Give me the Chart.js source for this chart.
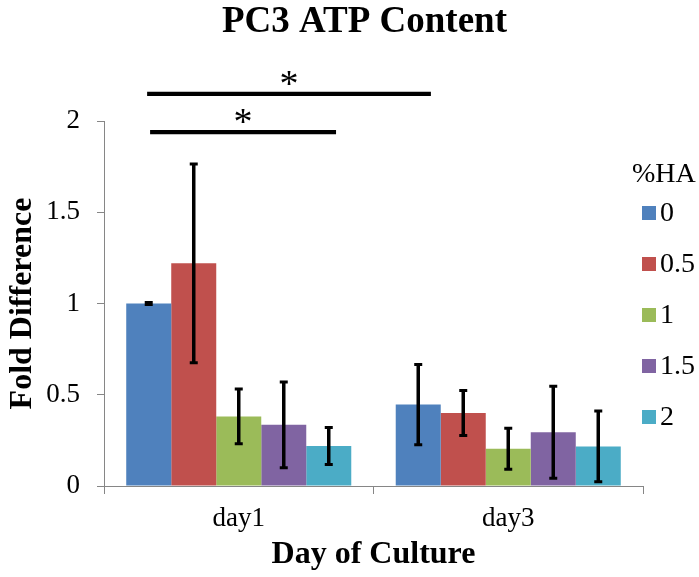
<!DOCTYPE html>
<html><head><meta charset="utf-8">
<script src="https://cdn.jsdelivr.net/npm/chart.js@4.4.0/dist/chart.umd.min.js"></script>
<style>html,body{margin:0;padding:0;background:#fff;}#wrap{width:699px;height:577px;}</style>
</head><body><div id="wrap"><canvas id="c" width="699" height="577"></canvas></div>
<script>
// ---- data ----
const categories = ['day1', 'day3'];
const seriesLabels = ['0', '0.5', '1', '1.5', '2'];
const values0 = [1.0, 0.446];
const values05 = [1.22, 0.40];
const values1 = [0.381, 0.204];
const values15 = [0.335, 0.295];
const values2 = [0.219, 0.217];
const errors0 = [0.005, 0.22];
const errors05 = [0.544, 0.123];
const errors1 = [0.15, 0.112];
const errors15 = [0.235, 0.252];
const errors2 = [0.101, 0.194];
const yTickValues = [0, 0.5, 1, 1.5, 2];
const yTickLabels = ['0', '0.5', '1', '1.5', '2'];
// significance brackets: start / end in category units, level in value units
const sigStart = [-0.34, -0.329];
const sigEnd = [0.713, 0.361];
const sigLevel = [2.149, 1.939];
const sigText = ['*', '*'];

const colors = ['#4F81BD', '#C0504D', '#9BBB59', '#8064A2', '#4BACC6'];
const seriesValues = [values0, values05, values1, values15, values2];
const seriesErrors = [errors0, errors05, errors1, errors15, errors2];
const FONT = "'Liberation Serif', 'Times New Roman', serif";
Chart.defaults.font.family = FONT;
Chart.defaults.color = '#000';

const datasets = seriesLabels.map((lab, i) => ({
  label: lab,
  data: seriesValues[i],
  errors: seriesErrors[i],
  backgroundColor: colors[i],
  borderWidth: 0,
  categoryPercentage: 0.835,
  barPercentage: 1.0
}));

const errorBars = {
  id: 'errorBars',
  afterDatasetsDraw(chart) {
    const ctx = chart.ctx;
    const ys = chart.scales.y;
    ctx.save();
    ctx.strokeStyle = '#000';
    chart.data.datasets.forEach((ds, i) => {
      const meta = chart.getDatasetMeta(i);
      meta.data.forEach((bar, j) => {
        const v = ds.data[j], e = ds.errors[j];
        const yt = ys.getPixelForValue(v + e);
        const yb = ys.getPixelForValue(v - e);
        ctx.lineWidth = 3.5;
        ctx.beginPath(); ctx.moveTo(bar.x, yt); ctx.lineTo(bar.x, yb); ctx.stroke();
        ctx.lineWidth = 3;
        ctx.beginPath();
        ctx.moveTo(bar.x - 4, yt); ctx.lineTo(bar.x + 4, yt);
        ctx.moveTo(bar.x - 4, yb); ctx.lineTo(bar.x + 4, yb);
        ctx.stroke();
      });
    });
    ctx.restore();
  }
};

const sigPlugin = {
  id: 'sig',
  afterDraw(chart) {
    const ctx = chart.ctx, xs = chart.scales.x, ys = chart.scales.y;
    ctx.save();
    ctx.strokeStyle = '#000'; ctx.fillStyle = '#000'; ctx.lineWidth = 4.3;
    sigStart.forEach((s, i) => {
      const x1 = xs.getPixelForValue(s), x2 = xs.getPixelForValue(sigEnd[i]);
      const y = ys.getPixelForValue(sigLevel[i]);
      ctx.beginPath(); ctx.moveTo(x1, y); ctx.lineTo(x2, y); ctx.stroke();
      ctx.font = '38px ' + FONT;
      ctx.textAlign = 'center'; ctx.textBaseline = 'middle';
      ctx.fillText(sigText[i], (x1 + x2) / 2, y - 8);
    });
    ctx.restore();
  }
};

const legendPlugin = {
  id: 'customLegend',
  afterDraw(chart) {
    const ctx = chart.ctx;
    ctx.save();
    ctx.font = '28px ' + FONT;
    ctx.fillStyle = '#000';
    ctx.textBaseline = 'middle';
    ctx.textAlign = 'left';
    ctx.fillText('%HA', 632, 175);
    chart.data.datasets.forEach((ds, i) => {
      const yc = 213 + i * 51;
      ctx.fillStyle = ds.backgroundColor;
      ctx.fillRect(642, yc - 7, 14, 14);
      ctx.fillStyle = '#000';
      ctx.fillText(ds.label, 660, yc + 1);
    });
    ctx.restore();
  }
};

const titleShift = {
  id: 'titleShift',
  afterLayout(chart) {
    if (chart.titleBlock) { chart.titleBlock.left = 30; chart.titleBlock.right = 699; }
  }
};

new Chart(document.getElementById('c'), {
  type: 'bar',
  data: { labels: categories, datasets },
  plugins: [errorBars, sigPlugin, legendPlugin, titleShift],
  options: {
    responsive: false,
    devicePixelRatio: 1,
    animation: false,
    layout: { padding: { left: 0, right: 56, top: 0, bottom: 0 } },
    plugins: {
      legend: { display: false },
      tooltip: { enabled: false },
      title: {
        display: true,
        text: 'PC3 ATP Content',
        color: '#000',
        font: { family: FONT, size: 37, weight: 'bold' },
        padding: { top: 0.5, bottom: 76.1 }
      }
    },
    scales: {
      x: {
        type: 'category',
        offset: true,
        grid: { offset: true, drawOnChartArea: false, drawTicks: true, tickLength: 8, color: '#868686', lineWidth: 1 },
        border: { display: true, color: '#868686', width: 1 },
        ticks: { font: { family: FONT, size: 27 }, color: '#000', padding: 9 },
        title: { display: true, text: 'Day of Culture', color: '#000', font: { family: FONT, size: 32, weight: 'bold' }, padding: { top: 0, bottom: 3 } },
        afterFit(s) { s.height = 91; }
      },
      y: {
        min: 0, max: 2,
        afterBuildTicks(s) { s.ticks = yTickValues.map(v => ({ value: v })); },
        grid: { drawOnChartArea: false, drawTicks: true, tickLength: 7, color: '#868686', lineWidth: 1 },
        border: { display: true, color: '#868686', width: 1 },
        ticks: {
          font: { family: FONT, size: 27 }, color: '#000', padding: 17,
          callback(value, index) { return yTickLabels[index]; }
        },
        title: { display: true, text: 'Fold Difference', color: '#000', font: { family: FONT, size: 32, weight: 'bold' }, padding: { top: 3.3, bottom: 0 } },
        afterFit(s) { s.width = 104; }
      }
    }
  }
});
</script>
</body></html>
